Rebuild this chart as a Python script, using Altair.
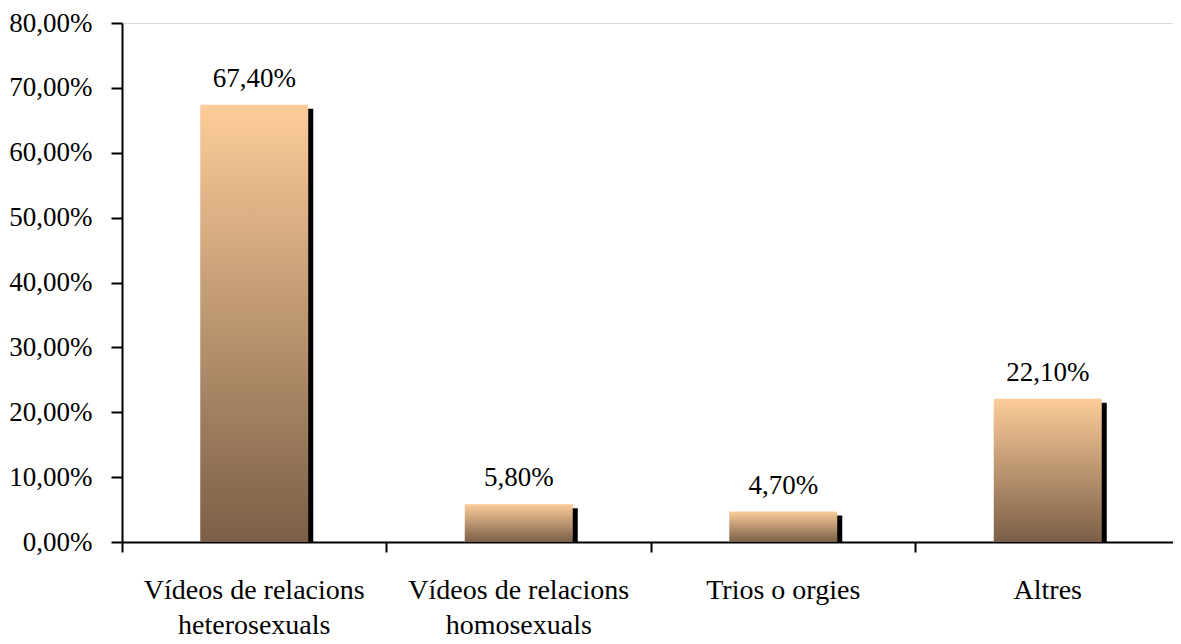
import altair as alt
import pandas as pd

categories = [
    "Vídeos de relacions heterosexuals",
    "Vídeos de relacions homosexuals",
    "Trios o orgies",
    "Altres",
]
label_lines = [
    ["Vídeos de relacions", "heterosexuals"],
    ["Vídeos de relacions", "homosexuals"],
    ["Trios o orgies"],
    ["Altres"],
]
values = [67.40, 5.80, 4.70, 22.10]
y_ticks = [0, 10, 20, 30, 40, 50, 60, 70, 80]

df = pd.DataFrame({"cat": categories, "value": values})

FONT = "Liberation Serif"

# x-axis label expression (multi-line labels)
expr = "datum.label"
for cat, lines in reversed(list(zip(categories, label_lines))):
    arr = "[" + ",".join("'" + l + "'" for l in lines) + "]"
    expr = f"datum.label == '{cat}' ? {arr} : ({expr})"

x = alt.X(
    "cat:N",
    sort=categories,
    title=None,
    scale=alt.Scale(paddingInner=0, paddingOuter=0, range=[0, 1058]),
    axis=alt.Axis(
        labelAngle=0,
        labelExpr=expr,
        labelFont=FONT,
        labelFontSize=28,
        labelColor="black",
        labelLineHeight=35,
        labelPadding=24,
        labelBaseline="top",
        labelLimit=400,
        bandPosition=0,
        tickSize=10,
        tickWidth=2,
        tickColor="black",
        domainColor="black",
        domainWidth=2,
        grid=False,
    ),
)

y = alt.Y(
    "value:Q",
    title=None,
    scale=alt.Scale(domain=[0, 80], nice=False),
    axis=alt.Axis(
        values=y_ticks,
        labelExpr="replace(format(datum.value, '.2f'), '.', ',') + '%'",
        labelFont=FONT,
        labelFontSize=27,
        labelColor="black",
        labelPadding=19,
        tickSize=11,
        tickWidth=2,
        tickColor="black",
        domainColor="black",
        domainWidth=2,
        grid=False,
    ),
)

base = alt.Chart(df)

shadow = base.mark_bar(
    size=108, color="black", xOffset=5, yOffset=4, y2Offset=0
).encode(x=x, y=y, y2=alt.datum(0))

gradient = alt.Gradient(
    gradient="linear",
    stops=[
        alt.GradientStop(color="#FDCC99", offset=0),
        alt.GradientStop(color="#7A5F47", offset=1),
    ],
    x1=0, x2=0, y1=0, y2=1,
)

bars = base.mark_bar(size=108, color=gradient).encode(x=x, y=y, y2=alt.datum(0))

labels = base.transform_calculate(
    txt="replace(format(datum.value, '.2f'), '.', ',') + '%'"
).mark_text(
    font=FONT, fontSize=27, color="black", baseline="alphabetic", dy=-18
).encode(x=x, y=y, text="txt:N")

chart = (
    alt.layer(shadow, bars, labels)
    .properties(
        width=1051,
        height=519,
        autosize=alt.AutoSizeParams(type="none"),
        padding={"left": 114, "top": 15, "right": 0, "bottom": 102},
    )
    .configure_view(strokeWidth=0)
    .configure(background="white")
)

chart.save("out.html", embed_options={"renderer": "svg", "actions": False})
